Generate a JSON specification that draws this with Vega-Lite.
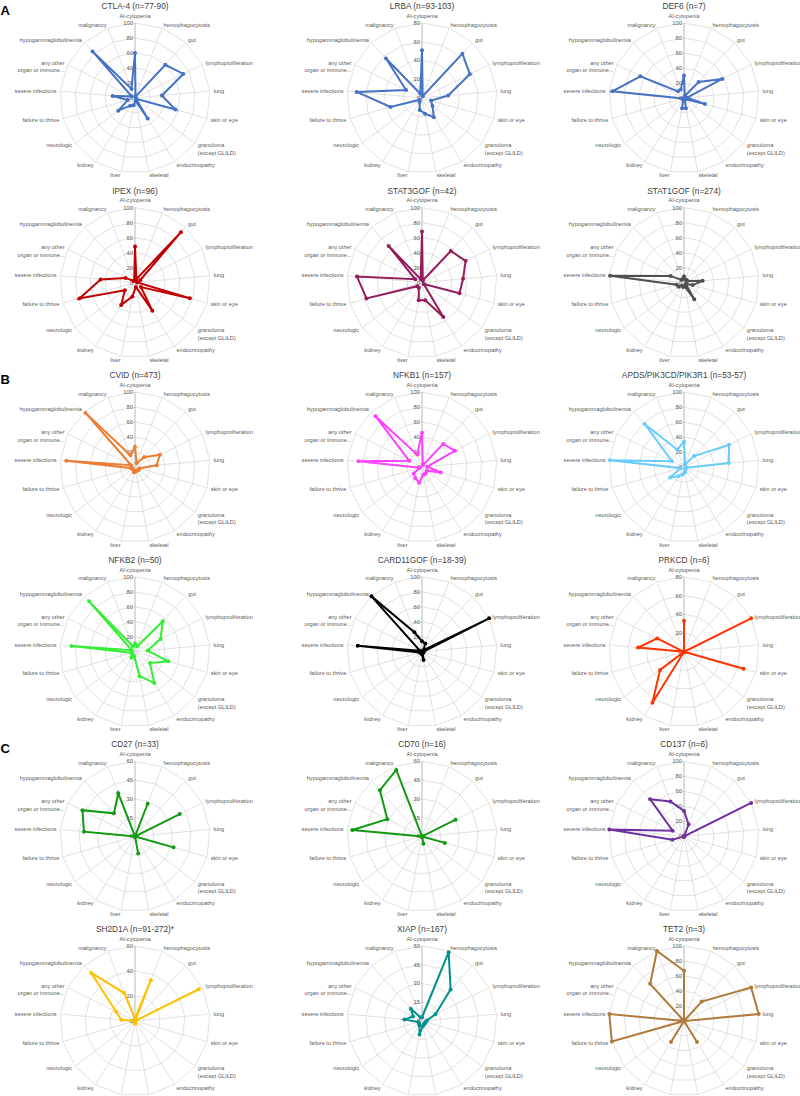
{
  "$schema": "https://vega.github.io/schema/vega-lite/v6.json",
  "padding": 0,
  "background": "white",
  "spacing": 0,
  "config": {"view": {"stroke": null}},
  "datasets": {
    "categories": [
      {"category": "AI-cytopenia", "label": "AI-cytopenia", "idx": 0},
      {"category": "hemophagocytosis", "label": "hemophagocytosis", "idx": 1},
      {"category": "gut", "label": "gut", "idx": 2},
      {"category": "lymphoproliferation", "label": "lymphoproliferation", "idx": 3},
      {"category": "lung", "label": "lung", "idx": 4},
      {"category": "skin or eye", "label": "skin or eye", "idx": 5},
      {"category": "granuloma (except GLILD)", "label": "granuloma\n(except GLILD)", "idx": 6},
      {"category": "endocrinopathy", "label": "endocrinopathy", "idx": 7},
      {"category": "skeletal", "label": "skeletal", "idx": 8},
      {"category": "liver", "label": "liver", "idx": 9},
      {"category": "kidney", "label": "kidney", "idx": 10},
      {"category": "neurologic", "label": "neurologic", "idx": 11},
      {"category": "failure to thrive", "label": "failure to thrive", "idx": 12},
      {"category": "severe infections", "label": "severe infections", "idx": 13},
      {"category": "any other organ or immune...", "label": "any other\norgan or immune...", "idx": 14},
      {"category": "hypogammaglobulinemia", "label": "hypogammaglobulinemia", "idx": 15},
      {"category": "malignancy", "label": "malignancy", "idx": 16}
    ],
    "panels": [
      {"panel": "CTLA-4", "title": "CTLA-4 (n=77-90)", "section": "A", "max": 100, "ticks": [0, 20, 40, 60, 80, 100]},
      {"panel": "LRBA", "title": "LRBA (n=93-103)", "section": "A", "max": 80, "ticks": [0, 20, 40, 60, 80]},
      {"panel": "DEF6", "title": "DEF6 (n=7)", "section": "A", "max": 100, "ticks": [0, 20, 40, 60, 80, 100]},
      {"panel": "IPEX", "title": "IPEX (n=96)", "section": "A", "max": 100, "ticks": [0, 20, 40, 60, 80, 100]},
      {"panel": "STAT3GOF", "title": "STAT3GOF (n=42)", "section": "A", "max": 100, "ticks": [0, 20, 40, 60, 80, 100]},
      {"panel": "STAT1GOF", "title": "STAT1GOF (n=274)", "section": "A", "max": 100, "ticks": [0, 20, 40, 60, 80, 100]},
      {"panel": "CVID", "title": "CVID (n=473)", "section": "B", "max": 100, "ticks": [0, 20, 40, 60, 80, 100]},
      {"panel": "NFKB1", "title": "NFKB1 (n=157)", "section": "B", "max": 100, "ticks": [0, 20, 40, 60, 80, 100]},
      {"panel": "APDS", "title": "APDS/PIK3CD/PIK3R1 (n=53-57)", "section": "B", "max": 100, "ticks": [0, 20, 40, 60, 80, 100]},
      {"panel": "NFKB2", "title": "NFKB2 (n=50)", "section": "B", "max": 100, "ticks": [0, 20, 40, 60, 80, 100]},
      {"panel": "CARD11GOF", "title": "CARD11GOF (n=18-39)", "section": "B", "max": 100, "ticks": [0, 20, 40, 60, 80, 100]},
      {"panel": "PRKCD", "title": "PRKCD (n=6)", "section": "B", "max": 80, "ticks": [0, 20, 40, 60, 80]},
      {"panel": "CD27", "title": "CD27 (n=33)", "section": "C", "max": 60, "ticks": [0, 15, 30, 45, 60]},
      {"panel": "CD70", "title": "CD70 (n=16)", "section": "C", "max": 60, "ticks": [0, 15, 30, 45, 60]},
      {"panel": "CD137", "title": "CD137 (n=6)", "section": "C", "max": 100, "ticks": [0, 20, 40, 60, 80, 100]},
      {"panel": "SH2D1A", "title": "SH2D1A (n=91-272)*", "section": "C", "max": 60, "ticks": [0, 20, 40, 60]},
      {"panel": "XIAP", "title": "XIAP (n=167)", "section": "C", "max": 60, "ticks": [0, 15, 30, 45, 60]},
      {"panel": "TET2", "title": "TET2 (n=3)", "section": "C", "max": 100, "ticks": [0, 20, 40, 60, 80, 100]}
    ],
    "values": [
      {"panel": "CTLA-4", "category": "AI-cytopenia", "value": 60},
      {"panel": "CTLA-4", "category": "hemophagocytosis", "value": 2},
      {"panel": "CTLA-4", "category": "gut", "value": 60},
      {"panel": "CTLA-4", "category": "lymphoproliferation", "value": 72},
      {"panel": "CTLA-4", "category": "lung", "value": 36},
      {"panel": "CTLA-4", "category": "skin or eye", "value": 56},
      {"panel": "CTLA-4", "category": "granuloma (except GLILD)", "value": 2},
      {"panel": "CTLA-4", "category": "endocrinopathy", "value": 32},
      {"panel": "CTLA-4", "category": "skeletal", "value": 4},
      {"panel": "CTLA-4", "category": "liver", "value": 10},
      {"panel": "CTLA-4", "category": "kidney", "value": 12},
      {"panel": "CTLA-4", "category": "neurologic", "value": 28},
      {"panel": "CTLA-4", "category": "failure to thrive", "value": 10},
      {"panel": "CTLA-4", "category": "severe infections", "value": 30},
      {"panel": "CTLA-4", "category": "any other organ or immune...", "value": 5},
      {"panel": "CTLA-4", "category": "hypogammaglobulinemia", "value": 84},
      {"panel": "CTLA-4", "category": "malignancy", "value": 13},

      {"panel": "LRBA", "category": "AI-cytopenia", "value": 51},
      {"panel": "LRBA", "category": "hemophagocytosis", "value": 2},
      {"panel": "LRBA", "category": "gut", "value": 64},
      {"panel": "LRBA", "category": "lymphoproliferation", "value": 57},
      {"panel": "LRBA", "category": "lung", "value": 28},
      {"panel": "LRBA", "category": "skin or eye", "value": 10},
      {"panel": "LRBA", "category": "granuloma (except GLILD)", "value": 14},
      {"panel": "LRBA", "category": "endocrinopathy", "value": 24},
      {"panel": "LRBA", "category": "skeletal", "value": 17},
      {"panel": "LRBA", "category": "liver", "value": 13},
      {"panel": "LRBA", "category": "kidney", "value": 5},
      {"panel": "LRBA", "category": "neurologic", "value": 3},
      {"panel": "LRBA", "category": "failure to thrive", "value": 35},
      {"panel": "LRBA", "category": "severe infections", "value": 70},
      {"panel": "LRBA", "category": "any other organ or immune...", "value": 19},
      {"panel": "LRBA", "category": "hypogammaglobulinemia", "value": 57},
      {"panel": "LRBA", "category": "malignancy", "value": 5},

      {"panel": "DEF6", "category": "AI-cytopenia", "value": 30},
      {"panel": "DEF6", "category": "hemophagocytosis", "value": 3},
      {"panel": "DEF6", "category": "gut", "value": 29},
      {"panel": "DEF6", "category": "lymphoproliferation", "value": 57},
      {"panel": "DEF6", "category": "lung", "value": 4},
      {"panel": "DEF6", "category": "skin or eye", "value": 29},
      {"panel": "DEF6", "category": "granuloma (except GLILD)", "value": 3},
      {"panel": "DEF6", "category": "endocrinopathy", "value": 2},
      {"panel": "DEF6", "category": "skeletal", "value": 14},
      {"panel": "DEF6", "category": "liver", "value": 14},
      {"panel": "DEF6", "category": "kidney", "value": 2},
      {"panel": "DEF6", "category": "neurologic", "value": 2},
      {"panel": "DEF6", "category": "failure to thrive", "value": 2},
      {"panel": "DEF6", "category": "severe infections", "value": 96},
      {"panel": "DEF6", "category": "any other organ or immune...", "value": 65},
      {"panel": "DEF6", "category": "hypogammaglobulinemia", "value": 12},
      {"panel": "DEF6", "category": "malignancy", "value": 12},

      {"panel": "IPEX", "category": "AI-cytopenia", "value": 48},
      {"panel": "IPEX", "category": "hemophagocytosis", "value": 5},
      {"panel": "IPEX", "category": "gut", "value": 91},
      {"panel": "IPEX", "category": "lymphoproliferation", "value": 8},
      {"panel": "IPEX", "category": "lung", "value": 3},
      {"panel": "IPEX", "category": "skin or eye", "value": 76},
      {"panel": "IPEX", "category": "granuloma (except GLILD)", "value": 10},
      {"panel": "IPEX", "category": "endocrinopathy", "value": 44},
      {"panel": "IPEX", "category": "skeletal", "value": 6},
      {"panel": "IPEX", "category": "liver", "value": 19},
      {"panel": "IPEX", "category": "kidney", "value": 35},
      {"panel": "IPEX", "category": "neurologic", "value": 17},
      {"panel": "IPEX", "category": "failure to thrive", "value": 77},
      {"panel": "IPEX", "category": "severe infections", "value": 46},
      {"panel": "IPEX", "category": "any other organ or immune...", "value": 14},
      {"panel": "IPEX", "category": "hypogammaglobulinemia", "value": 3},
      {"panel": "IPEX", "category": "malignancy", "value": 3},

      {"panel": "STAT3GOF", "category": "AI-cytopenia", "value": 68},
      {"panel": "STAT3GOF", "category": "hemophagocytosis", "value": 3},
      {"panel": "STAT3GOF", "category": "gut", "value": 57},
      {"panel": "STAT3GOF", "category": "lymphoproliferation", "value": 65},
      {"panel": "STAT3GOF", "category": "lung", "value": 55},
      {"panel": "STAT3GOF", "category": "skin or eye", "value": 52},
      {"panel": "STAT3GOF", "category": "granuloma (except GLILD)", "value": 3},
      {"panel": "STAT3GOF", "category": "endocrinopathy", "value": 54},
      {"panel": "STAT3GOF", "category": "skeletal", "value": 24},
      {"panel": "STAT3GOF", "category": "liver", "value": 24},
      {"panel": "STAT3GOF", "category": "kidney", "value": 8},
      {"panel": "STAT3GOF", "category": "neurologic", "value": 8},
      {"panel": "STAT3GOF", "category": "failure to thrive", "value": 77},
      {"panel": "STAT3GOF", "category": "severe infections", "value": 87},
      {"panel": "STAT3GOF", "category": "any other organ or immune...", "value": 10},
      {"panel": "STAT3GOF", "category": "hypogammaglobulinemia", "value": 66},
      {"panel": "STAT3GOF", "category": "malignancy", "value": 5},

      {"panel": "STAT1GOF", "category": "AI-cytopenia", "value": 8},
      {"panel": "STAT1GOF", "category": "hemophagocytosis", "value": 4},
      {"panel": "STAT1GOF", "category": "gut", "value": 5},
      {"panel": "STAT1GOF", "category": "lymphoproliferation", "value": 5},
      {"panel": "STAT1GOF", "category": "lung", "value": 25},
      {"panel": "STAT1GOF", "category": "skin or eye", "value": 12},
      {"panel": "STAT1GOF", "category": "granuloma (except GLILD)", "value": 3},
      {"panel": "STAT1GOF", "category": "endocrinopathy", "value": 26},
      {"panel": "STAT1GOF", "category": "skeletal", "value": 5},
      {"panel": "STAT1GOF", "category": "liver", "value": 6},
      {"panel": "STAT1GOF", "category": "kidney", "value": 5},
      {"panel": "STAT1GOF", "category": "neurologic", "value": 9},
      {"panel": "STAT1GOF", "category": "failure to thrive", "value": 10},
      {"panel": "STAT1GOF", "category": "severe infections", "value": 99},
      {"panel": "STAT1GOF", "category": "any other organ or immune...", "value": 20},
      {"panel": "STAT1GOF", "category": "hypogammaglobulinemia", "value": 5},
      {"panel": "STAT1GOF", "category": "malignancy", "value": 5},

      {"panel": "CVID", "category": "AI-cytopenia", "value": 27},
      {"panel": "CVID", "category": "hemophagocytosis", "value": 6},
      {"panel": "CVID", "category": "gut", "value": 18},
      {"panel": "CVID", "category": "lymphoproliferation", "value": 37},
      {"panel": "CVID", "category": "lung", "value": 29},
      {"panel": "CVID", "category": "skin or eye", "value": 6},
      {"panel": "CVID", "category": "granuloma (except GLILD)", "value": 6},
      {"panel": "CVID", "category": "endocrinopathy", "value": 5},
      {"panel": "CVID", "category": "skeletal", "value": 6},
      {"panel": "CVID", "category": "liver", "value": 7},
      {"panel": "CVID", "category": "kidney", "value": 4},
      {"panel": "CVID", "category": "neurologic", "value": 4},
      {"panel": "CVID", "category": "failure to thrive", "value": 5},
      {"panel": "CVID", "category": "severe infections", "value": 92},
      {"panel": "CVID", "category": "any other organ or immune...", "value": 6},
      {"panel": "CVID", "category": "hypogammaglobulinemia", "value": 98},
      {"panel": "CVID", "category": "malignancy", "value": 17},

      {"panel": "NFKB1", "category": "AI-cytopenia", "value": 46},
      {"panel": "NFKB1", "category": "hemophagocytosis", "value": 3},
      {"panel": "NFKB1", "category": "gut", "value": 42},
      {"panel": "NFKB1", "category": "lymphoproliferation", "value": 49},
      {"panel": "NFKB1", "category": "lung", "value": 7},
      {"panel": "NFKB1", "category": "skin or eye", "value": 26},
      {"panel": "NFKB1", "category": "granuloma (except GLILD)", "value": 8},
      {"panel": "NFKB1", "category": "endocrinopathy", "value": 10},
      {"panel": "NFKB1", "category": "skeletal", "value": 10},
      {"panel": "NFKB1", "category": "liver", "value": 21},
      {"panel": "NFKB1", "category": "kidney", "value": 17},
      {"panel": "NFKB1", "category": "neurologic", "value": 14},
      {"panel": "NFKB1", "category": "failure to thrive", "value": 3},
      {"panel": "NFKB1", "category": "severe infections", "value": 85},
      {"panel": "NFKB1", "category": "any other organ or immune...", "value": 19},
      {"panel": "NFKB1", "category": "hypogammaglobulinemia", "value": 92},
      {"panel": "NFKB1", "category": "malignancy", "value": 18},

      {"panel": "APDS", "category": "AI-cytopenia", "value": 34},
      {"panel": "APDS", "category": "hemophagocytosis", "value": 4},
      {"panel": "APDS", "category": "gut", "value": 20},
      {"panel": "APDS", "category": "lymphoproliferation", "value": 67},
      {"panel": "APDS", "category": "lung", "value": 60},
      {"panel": "APDS", "category": "skin or eye", "value": 3},
      {"panel": "APDS", "category": "granuloma (except GLILD)", "value": 3},
      {"panel": "APDS", "category": "endocrinopathy", "value": 3},
      {"panel": "APDS", "category": "skeletal", "value": 7},
      {"panel": "APDS", "category": "liver", "value": 10},
      {"panel": "APDS", "category": "kidney", "value": 14},
      {"panel": "APDS", "category": "neurologic", "value": 23},
      {"panel": "APDS", "category": "failure to thrive", "value": 5},
      {"panel": "APDS", "category": "severe infections", "value": 99},
      {"panel": "APDS", "category": "any other organ or immune...", "value": 18},
      {"panel": "APDS", "category": "hypogammaglobulinemia", "value": 78},
      {"panel": "APDS", "category": "malignancy", "value": 25},

      {"panel": "NFKB2", "category": "AI-cytopenia", "value": 11},
      {"panel": "NFKB2", "category": "hemophagocytosis", "value": 8},
      {"panel": "NFKB2", "category": "gut", "value": 55},
      {"panel": "NFKB2", "category": "lymphoproliferation", "value": 38},
      {"panel": "NFKB2", "category": "lung", "value": 17},
      {"panel": "NFKB2", "category": "skin or eye", "value": 46},
      {"panel": "NFKB2", "category": "granuloma (except GLILD)", "value": 25},
      {"panel": "NFKB2", "category": "endocrinopathy", "value": 49},
      {"panel": "NFKB2", "category": "skeletal", "value": 33},
      {"panel": "NFKB2", "category": "liver", "value": 6},
      {"panel": "NFKB2", "category": "kidney", "value": 9},
      {"panel": "NFKB2", "category": "neurologic", "value": 5},
      {"panel": "NFKB2", "category": "failure to thrive", "value": 5},
      {"panel": "NFKB2", "category": "severe infections", "value": 85},
      {"panel": "NFKB2", "category": "any other organ or immune...", "value": 5},
      {"panel": "NFKB2", "category": "hypogammaglobulinemia", "value": 91},
      {"panel": "NFKB2", "category": "malignancy", "value": 8},

      {"panel": "CARD11GOF", "category": "AI-cytopenia", "value": 14},
      {"panel": "CARD11GOF", "category": "hemophagocytosis", "value": 12},
      {"panel": "CARD11GOF", "category": "gut", "value": 3},
      {"panel": "CARD11GOF", "category": "lymphoproliferation", "value": 100},
      {"panel": "CARD11GOF", "category": "lung", "value": 2},
      {"panel": "CARD11GOF", "category": "skin or eye", "value": 2},
      {"panel": "CARD11GOF", "category": "granuloma (except GLILD)", "value": 2},
      {"panel": "CARD11GOF", "category": "endocrinopathy", "value": 2},
      {"panel": "CARD11GOF", "category": "skeletal", "value": 11},
      {"panel": "CARD11GOF", "category": "liver", "value": 3},
      {"panel": "CARD11GOF", "category": "kidney", "value": 2},
      {"panel": "CARD11GOF", "category": "neurologic", "value": 2},
      {"panel": "CARD11GOF", "category": "failure to thrive", "value": 3},
      {"panel": "CARD11GOF", "category": "severe infections", "value": 86},
      {"panel": "CARD11GOF", "category": "any other organ or immune...", "value": 3},
      {"panel": "CARD11GOF", "category": "hypogammaglobulinemia", "value": 100},
      {"panel": "CARD11GOF", "category": "malignancy", "value": 28},

      {"panel": "PRKCD", "category": "AI-cytopenia", "value": 33},
      {"panel": "PRKCD", "category": "hemophagocytosis", "value": 0},
      {"panel": "PRKCD", "category": "gut", "value": 0},
      {"panel": "PRKCD", "category": "lymphoproliferation", "value": 80},
      {"panel": "PRKCD", "category": "lung", "value": 0},
      {"panel": "PRKCD", "category": "skin or eye", "value": 66},
      {"panel": "PRKCD", "category": "granuloma (except GLILD)", "value": 0},
      {"panel": "PRKCD", "category": "endocrinopathy", "value": 0},
      {"panel": "PRKCD", "category": "skeletal", "value": 0},
      {"panel": "PRKCD", "category": "liver", "value": 0},
      {"panel": "PRKCD", "category": "kidney", "value": 64},
      {"panel": "PRKCD", "category": "neurologic", "value": 32},
      {"panel": "PRKCD", "category": "failure to thrive", "value": 0},
      {"panel": "PRKCD", "category": "severe infections", "value": 49},
      {"panel": "PRKCD", "category": "any other organ or immune...", "value": 32},
      {"panel": "PRKCD", "category": "hypogammaglobulinemia", "value": 0},
      {"panel": "PRKCD", "category": "malignancy", "value": 0},

      {"panel": "CD27", "category": "AI-cytopenia", "value": 0},
      {"panel": "CD27", "category": "hemophagocytosis", "value": 28},
      {"panel": "CD27", "category": "gut", "value": 0},
      {"panel": "CD27", "category": "lymphoproliferation", "value": 40},
      {"panel": "CD27", "category": "lung", "value": 0},
      {"panel": "CD27", "category": "skin or eye", "value": 32},
      {"panel": "CD27", "category": "granuloma (except GLILD)", "value": 0},
      {"panel": "CD27", "category": "endocrinopathy", "value": 0},
      {"panel": "CD27", "category": "skeletal", "value": 14},
      {"panel": "CD27", "category": "liver", "value": 0},
      {"panel": "CD27", "category": "kidney", "value": 0},
      {"panel": "CD27", "category": "neurologic", "value": 0},
      {"panel": "CD27", "category": "failure to thrive", "value": 0},
      {"panel": "CD27", "category": "severe infections", "value": 41},
      {"panel": "CD27", "category": "any other organ or immune...", "value": 47},
      {"panel": "CD27", "category": "hypogammaglobulinemia", "value": 25},
      {"panel": "CD27", "category": "malignancy", "value": 37},

      {"panel": "CD70", "category": "AI-cytopenia", "value": 0},
      {"panel": "CD70", "category": "hemophagocytosis", "value": 0},
      {"panel": "CD70", "category": "gut", "value": 0},
      {"panel": "CD70", "category": "lymphoproliferation", "value": 30},
      {"panel": "CD70", "category": "lung", "value": 0},
      {"panel": "CD70", "category": "skin or eye", "value": 19},
      {"panel": "CD70", "category": "granuloma (except GLILD)", "value": 0},
      {"panel": "CD70", "category": "endocrinopathy", "value": 0},
      {"panel": "CD70", "category": "skeletal", "value": 6},
      {"panel": "CD70", "category": "liver", "value": 0},
      {"panel": "CD70", "category": "kidney", "value": 0},
      {"panel": "CD70", "category": "neurologic", "value": 0},
      {"panel": "CD70", "category": "failure to thrive", "value": 0},
      {"panel": "CD70", "category": "severe infections", "value": 56},
      {"panel": "CD70", "category": "any other organ or immune...", "value": 31},
      {"panel": "CD70", "category": "hypogammaglobulinemia", "value": 50},
      {"panel": "CD70", "category": "malignancy", "value": 57},

      {"panel": "CD137", "category": "AI-cytopenia", "value": 34},
      {"panel": "CD137", "category": "hemophagocytosis", "value": 17},
      {"panel": "CD137", "category": "gut", "value": 0},
      {"panel": "CD137", "category": "lymphoproliferation", "value": 100},
      {"panel": "CD137", "category": "lung", "value": 0},
      {"panel": "CD137", "category": "skin or eye", "value": 0},
      {"panel": "CD137", "category": "granuloma (except GLILD)", "value": 0},
      {"panel": "CD137", "category": "endocrinopathy", "value": 0},
      {"panel": "CD137", "category": "skeletal", "value": 0},
      {"panel": "CD137", "category": "liver", "value": 0},
      {"panel": "CD137", "category": "kidney", "value": 0},
      {"panel": "CD137", "category": "neurologic", "value": 0},
      {"panel": "CD137", "category": "failure to thrive", "value": 16},
      {"panel": "CD137", "category": "severe infections", "value": 100},
      {"panel": "CD137", "category": "any other organ or immune...", "value": 17},
      {"panel": "CD137", "category": "hypogammaglobulinemia", "value": 67},
      {"panel": "CD137", "category": "malignancy", "value": 50},

      {"panel": "SH2D1A", "category": "AI-cytopenia", "value": 2},
      {"panel": "SH2D1A", "category": "hemophagocytosis", "value": 35},
      {"panel": "SH2D1A", "category": "gut", "value": 0},
      {"panel": "SH2D1A", "category": "lymphoproliferation", "value": 57},
      {"panel": "SH2D1A", "category": "lung", "value": 0},
      {"panel": "SH2D1A", "category": "skin or eye", "value": 0},
      {"panel": "SH2D1A", "category": "granuloma (except GLILD)", "value": 0},
      {"panel": "SH2D1A", "category": "endocrinopathy", "value": 0},
      {"panel": "SH2D1A", "category": "skeletal", "value": 2},
      {"panel": "SH2D1A", "category": "liver", "value": 2},
      {"panel": "SH2D1A", "category": "kidney", "value": 0},
      {"panel": "SH2D1A", "category": "neurologic", "value": 0},
      {"panel": "SH2D1A", "category": "failure to thrive", "value": 0},
      {"panel": "SH2D1A", "category": "severe infections", "value": 11},
      {"panel": "SH2D1A", "category": "any other organ or immune...", "value": 17},
      {"panel": "SH2D1A", "category": "hypogammaglobulinemia", "value": 52},
      {"panel": "SH2D1A", "category": "malignancy", "value": 24},

      {"panel": "XIAP", "category": "AI-cytopenia", "value": 3},
      {"panel": "XIAP", "category": "hemophagocytosis", "value": 59},
      {"panel": "XIAP", "category": "gut", "value": 34},
      {"panel": "XIAP", "category": "lymphoproliferation", "value": 12},
      {"panel": "XIAP", "category": "lung", "value": 4},
      {"panel": "XIAP", "category": "skin or eye", "value": 3},
      {"panel": "XIAP", "category": "granuloma (except GLILD)", "value": 3},
      {"panel": "XIAP", "category": "endocrinopathy", "value": 3},
      {"panel": "XIAP", "category": "skeletal", "value": 4},
      {"panel": "XIAP", "category": "liver", "value": 11},
      {"panel": "XIAP", "category": "kidney", "value": 4},
      {"panel": "XIAP", "category": "neurologic", "value": 3},
      {"panel": "XIAP", "category": "failure to thrive", "value": 3},
      {"panel": "XIAP", "category": "severe infections", "value": 14},
      {"panel": "XIAP", "category": "any other organ or immune...", "value": 8},
      {"panel": "XIAP", "category": "hypogammaglobulinemia", "value": 13},
      {"panel": "XIAP", "category": "malignancy", "value": 3},

      {"panel": "TET2", "category": "AI-cytopenia", "value": 67},
      {"panel": "TET2", "category": "hemophagocytosis", "value": 0},
      {"panel": "TET2", "category": "gut", "value": 35},
      {"panel": "TET2", "category": "lymphoproliferation", "value": 100},
      {"panel": "TET2", "category": "lung", "value": 100},
      {"panel": "TET2", "category": "skin or eye", "value": 0},
      {"panel": "TET2", "category": "granuloma (except GLILD)", "value": 0},
      {"panel": "TET2", "category": "endocrinopathy", "value": 33},
      {"panel": "TET2", "category": "skeletal", "value": 0},
      {"panel": "TET2", "category": "liver", "value": 0},
      {"panel": "TET2", "category": "kidney", "value": 33},
      {"panel": "TET2", "category": "neurologic", "value": 0},
      {"panel": "TET2", "category": "failure to thrive", "value": 100},
      {"panel": "TET2", "category": "severe infections", "value": 100},
      {"panel": "TET2", "category": "any other organ or immune...", "value": 0},
      {"panel": "TET2", "category": "hypogammaglobulinemia", "value": 67},
      {"panel": "TET2", "category": "malignancy", "value": 100}
    ]
  },
  "hconcat": [
    {
      "data": {"name": "values"},
      "transform": [
        {"filter": {"field": "panel", "oneOf": ["CTLA-4", "IPEX", "CVID", "NFKB2", "CD27", "SH2D1A"]}},
        {"lookup": "category", "from": {"data": {"name": "categories"}, "key": "category", "fields": ["idx", "label"]}},
        {"lookup": "panel", "from": {"data": {"name": "panels"}, "key": "panel", "fields": ["title", "max", "ticks", "section"]}},
        {"calculate": "sin(2 * PI * datum.idx / 17)", "as": "ux"},
        {"calculate": "cos(2 * PI * datum.idx / 17)", "as": "uy"}
      ],
      "facet": {"field": "title", "type": "nominal", "title": null,
        "sort": ["CTLA-4 (n=77-90)", "IPEX (n=96)", "CVID (n=473)", "NFKB2 (n=50)", "CD27 (n=33)", "SH2D1A (n=91-272)*"],
        "header": {"labelExpr": "''", "labelFontSize": 1, "labelPadding": 0}},
      "columns": 1,
      "spacing": 5.6,
      "bounds": "flush",
      "spec": {
        "width": 272,
        "height": 179,
        "encoding": {
          "x": {"field": "px", "type": "quantitative", "scale": {"domain": [-1.7867, 1.84], "nice": false, "zero": false}, "axis": null},
          "y": {"field": "py", "type": "quantitative", "scale": {"domain": [-1.0933, 1.2933], "nice": false, "zero": false}, "axis": null}
        },
        "layer": [
          {"transform": [{"flatten": ["ticks"]}, {"calculate": "datum.ticks / datum.max * datum.ux", "as": "px"}, {"calculate": "datum.ticks / datum.max * datum.uy", "as": "py"}],
           "mark": {"type": "line", "interpolate": "linear-closed", "stroke": "#d9d9d9", "strokeWidth": 0.8},
           "encoding": {"detail": {"field": "ticks", "type": "nominal"}, "order": {"field": "idx", "type": "quantitative"}}},
          {"transform": [{"calculate": "datum.ux", "as": "px"}, {"calculate": "datum.uy", "as": "py"}],
           "mark": {"type": "rule", "strokeWidth": 0.8},
           "encoding": {"x2": {"datum": 0}, "y2": {"datum": 0}, "color": {"condition": {"test": "datum.idx == 0", "value": "#a6a6a6"}, "value": "#d9d9d9"}}},
          {"transform": [{"filter": "datum.idx == 0"}, {"flatten": ["ticks"]}, {"calculate": "0", "as": "px"}, {"calculate": "datum.ticks / datum.max", "as": "py"}],
           "mark": {"type": "text", "align": "right", "baseline": "middle", "dx": -2, "fontSize": 5.8, "color": "#595959", "font": "Liberation Sans, sans-serif"},
           "encoding": {"text": {"field": "ticks", "type": "quantitative"}}},
          {"transform": [{"filter": "datum.ux > 0.05"}, {"calculate": "1.05 * datum.ux", "as": "px"}, {"calculate": "1.05 * datum.uy", "as": "py"}],
           "mark": {"type": "text", "align": "left", "baseline": "middle", "fontSize": 5.6, "color": "#595959", "font": "Liberation Sans, sans-serif", "lineBreak": "\n", "lineHeight": 7.5},
           "encoding": {"text": {"field": "label", "type": "nominal"}}},
          {"transform": [{"filter": "datum.ux < -0.05"}, {"calculate": "1.05 * datum.ux", "as": "px"}, {"calculate": "1.05 * datum.uy", "as": "py"}],
           "mark": {"type": "text", "align": "right", "baseline": "middle", "fontSize": 5.6, "color": "#595959", "font": "Liberation Sans, sans-serif", "lineBreak": "\n", "lineHeight": 7.5},
           "encoding": {"text": {"field": "label", "type": "nominal"}}},
          {"transform": [{"filter": "datum.idx == 0"}, {"calculate": "0", "as": "px"}, {"calculate": "1.095", "as": "py"}],
           "mark": {"type": "text", "align": "center", "baseline": "middle", "fontSize": 5.6, "color": "#595959", "font": "Liberation Sans, sans-serif"},
           "encoding": {"text": {"field": "label", "type": "nominal"}}},
          {"transform": [{"filter": "datum.idx == 0"}, {"calculate": "0", "as": "px"}, {"calculate": "1.2133", "as": "py"}],
           "mark": {"type": "text", "align": "center", "baseline": "middle", "fontSize": 8.3, "color": "#404040", "font": "Liberation Sans, sans-serif"},
           "encoding": {"text": {"field": "title", "type": "nominal"}}},
          {"transform": [{"calculate": "datum.value / datum.max * datum.ux", "as": "px"}, {"calculate": "datum.value / datum.max * datum.uy", "as": "py"}],
           "mark": {"type": "line", "interpolate": "linear-closed", "strokeWidth": 2},
           "encoding": {"order": {"field": "idx", "type": "quantitative"},
             "color": {"field": "panel", "type": "nominal", "legend": null, "scale": {
               "domain": ["CTLA-4", "LRBA", "DEF6", "IPEX", "STAT3GOF", "STAT1GOF", "CVID", "NFKB1", "APDS", "NFKB2", "CARD11GOF", "PRKCD", "CD27", "CD70", "CD137", "SH2D1A", "XIAP", "TET2"],
               "range": ["#4472c4", "#4472c4", "#4472c4", "#c00000", "#941c5c", "#505050", "#ed7d31", "#ff40ff", "#66ccff", "#33ee33", "#000000", "#ff3300", "#139a13", "#139a13", "#7030a0", "#ffc000", "#00918e", "#b07a3a"]}}}},
          {"transform": [{"calculate": "datum.value / datum.max * datum.ux", "as": "px"}, {"calculate": "datum.value / datum.max * datum.uy", "as": "py"}],
           "mark": {"type": "circle", "size": 16, "opacity": 1},
           "encoding": {
             "color": {"field": "panel", "type": "nominal", "legend": null, "scale": {
               "domain": ["CTLA-4", "LRBA", "DEF6", "IPEX", "STAT3GOF", "STAT1GOF", "CVID", "NFKB1", "APDS", "NFKB2", "CARD11GOF", "PRKCD", "CD27", "CD70", "CD137", "SH2D1A", "XIAP", "TET2"],
               "range": ["#4472c4", "#4472c4", "#4472c4", "#c00000", "#941c5c", "#505050", "#ed7d31", "#ff40ff", "#66ccff", "#33ee33", "#000000", "#ff3300", "#139a13", "#139a13", "#7030a0", "#ffc000", "#00918e", "#b07a3a"]}}}},
          {"transform": [{"filter": {"field": "panel", "oneOf": ["CTLA-4", "CVID", "CD27"]}}, {"filter": "datum.idx == 0"}, {"calculate": "-1.73", "as": "px"}, {"calculate": "1.16", "as": "py"}],
           "mark": {"type": "text", "align": "center", "baseline": "middle", "fontSize": 13, "fontWeight": "bold", "color": "#000000", "font": "Liberation Sans, sans-serif"},
           "encoding": {"text": {"field": "section", "type": "nominal"}}}
        ]
      }
    },
    {
      "data": {"name": "values"},
      "transform": [
        {"filter": {"field": "panel", "oneOf": ["LRBA", "STAT3GOF", "NFKB1", "CARD11GOF", "CD70", "XIAP"]}},
        {"lookup": "category", "from": {"data": {"name": "categories"}, "key": "category", "fields": ["idx", "label"]}},
        {"lookup": "panel", "from": {"data": {"name": "panels"}, "key": "panel", "fields": ["title", "max", "ticks", "section"]}},
        {"calculate": "sin(2 * PI * datum.idx / 17)", "as": "ux"},
        {"calculate": "cos(2 * PI * datum.idx / 17)", "as": "uy"}
      ],
      "facet": {"field": "title", "type": "nominal", "title": null,
        "sort": ["LRBA (n=93-103)", "STAT3GOF (n=42)", "NFKB1 (n=157)", "CARD11GOF (n=18-39)", "CD70 (n=16)", "XIAP (n=167)"],
        "header": {"labelExpr": "''", "labelFontSize": 1, "labelPadding": 0}},
      "columns": 1,
      "spacing": 5.6,
      "bounds": "flush",
      "spec": {
        "width": 268,
        "height": 179,
        "encoding": {
          "x": {"field": "px", "type": "quantitative", "scale": {"domain": [-1.9867, 1.5867], "nice": false, "zero": false}, "axis": null},
          "y": {"field": "py", "type": "quantitative", "scale": {"domain": [-1.0933, 1.2933], "nice": false, "zero": false}, "axis": null}
        },
        "layer": [
          {"transform": [{"flatten": ["ticks"]}, {"calculate": "datum.ticks / datum.max * datum.ux", "as": "px"}, {"calculate": "datum.ticks / datum.max * datum.uy", "as": "py"}],
           "mark": {"type": "line", "interpolate": "linear-closed", "stroke": "#d9d9d9", "strokeWidth": 0.8},
           "encoding": {"detail": {"field": "ticks", "type": "nominal"}, "order": {"field": "idx", "type": "quantitative"}}},
          {"transform": [{"calculate": "datum.ux", "as": "px"}, {"calculate": "datum.uy", "as": "py"}],
           "mark": {"type": "rule", "strokeWidth": 0.8},
           "encoding": {"x2": {"datum": 0}, "y2": {"datum": 0}, "color": {"condition": {"test": "datum.idx == 0", "value": "#a6a6a6"}, "value": "#d9d9d9"}}},
          {"transform": [{"filter": "datum.idx == 0"}, {"flatten": ["ticks"]}, {"calculate": "0", "as": "px"}, {"calculate": "datum.ticks / datum.max", "as": "py"}],
           "mark": {"type": "text", "align": "right", "baseline": "middle", "dx": -2, "fontSize": 5.8, "color": "#595959", "font": "Liberation Sans, sans-serif"},
           "encoding": {"text": {"field": "ticks", "type": "quantitative"}}},
          {"transform": [{"filter": "datum.ux > 0.05"}, {"calculate": "1.05 * datum.ux", "as": "px"}, {"calculate": "1.05 * datum.uy", "as": "py"}],
           "mark": {"type": "text", "align": "left", "baseline": "middle", "fontSize": 5.6, "color": "#595959", "font": "Liberation Sans, sans-serif", "lineBreak": "\n", "lineHeight": 7.5},
           "encoding": {"text": {"field": "label", "type": "nominal"}}},
          {"transform": [{"filter": "datum.ux < -0.05"}, {"calculate": "1.05 * datum.ux", "as": "px"}, {"calculate": "1.05 * datum.uy", "as": "py"}],
           "mark": {"type": "text", "align": "right", "baseline": "middle", "fontSize": 5.6, "color": "#595959", "font": "Liberation Sans, sans-serif", "lineBreak": "\n", "lineHeight": 7.5},
           "encoding": {"text": {"field": "label", "type": "nominal"}}},
          {"transform": [{"filter": "datum.idx == 0"}, {"calculate": "0", "as": "px"}, {"calculate": "1.095", "as": "py"}],
           "mark": {"type": "text", "align": "center", "baseline": "middle", "fontSize": 5.6, "color": "#595959", "font": "Liberation Sans, sans-serif"},
           "encoding": {"text": {"field": "label", "type": "nominal"}}},
          {"transform": [{"filter": "datum.idx == 0"}, {"calculate": "0", "as": "px"}, {"calculate": "1.2133", "as": "py"}],
           "mark": {"type": "text", "align": "center", "baseline": "middle", "fontSize": 8.3, "color": "#404040", "font": "Liberation Sans, sans-serif"},
           "encoding": {"text": {"field": "title", "type": "nominal"}}},
          {"transform": [{"calculate": "datum.value / datum.max * datum.ux", "as": "px"}, {"calculate": "datum.value / datum.max * datum.uy", "as": "py"}],
           "mark": {"type": "line", "interpolate": "linear-closed", "strokeWidth": 2},
           "encoding": {"order": {"field": "idx", "type": "quantitative"},
             "color": {"field": "panel", "type": "nominal", "legend": null, "scale": {
               "domain": ["CTLA-4", "LRBA", "DEF6", "IPEX", "STAT3GOF", "STAT1GOF", "CVID", "NFKB1", "APDS", "NFKB2", "CARD11GOF", "PRKCD", "CD27", "CD70", "CD137", "SH2D1A", "XIAP", "TET2"],
               "range": ["#4472c4", "#4472c4", "#4472c4", "#c00000", "#941c5c", "#505050", "#ed7d31", "#ff40ff", "#66ccff", "#33ee33", "#000000", "#ff3300", "#139a13", "#139a13", "#7030a0", "#ffc000", "#00918e", "#b07a3a"]}}}},
          {"transform": [{"calculate": "datum.value / datum.max * datum.ux", "as": "px"}, {"calculate": "datum.value / datum.max * datum.uy", "as": "py"}],
           "mark": {"type": "circle", "size": 16, "opacity": 1},
           "encoding": {
             "color": {"field": "panel", "type": "nominal", "legend": null, "scale": {
               "domain": ["CTLA-4", "LRBA", "DEF6", "IPEX", "STAT3GOF", "STAT1GOF", "CVID", "NFKB1", "APDS", "NFKB2", "CARD11GOF", "PRKCD", "CD27", "CD70", "CD137", "SH2D1A", "XIAP", "TET2"],
               "range": ["#4472c4", "#4472c4", "#4472c4", "#c00000", "#941c5c", "#505050", "#ed7d31", "#ff40ff", "#66ccff", "#33ee33", "#000000", "#ff3300", "#139a13", "#139a13", "#7030a0", "#ffc000", "#00918e", "#b07a3a"]}}}}
        ]
      }
    },
    {
      "data": {"name": "values"},
      "transform": [
        {"filter": {"field": "panel", "oneOf": ["DEF6", "STAT1GOF", "APDS", "PRKCD", "CD137", "TET2"]}},
        {"lookup": "category", "from": {"data": {"name": "categories"}, "key": "category", "fields": ["idx", "label"]}},
        {"lookup": "panel", "from": {"data": {"name": "panels"}, "key": "panel", "fields": ["title", "max", "ticks", "section"]}},
        {"calculate": "sin(2 * PI * datum.idx / 17)", "as": "ux"},
        {"calculate": "cos(2 * PI * datum.idx / 17)", "as": "uy"}
      ],
      "facet": {"field": "title", "type": "nominal", "title": null,
        "sort": ["DEF6 (n=7)", "STAT1GOF (n=274)", "APDS/PIK3CD/PIK3R1 (n=53-57)", "PRKCD (n=6)", "CD137 (n=6)", "TET2 (n=3)"],
        "header": {"labelExpr": "''", "labelFontSize": 1, "labelPadding": 0}},
      "columns": 1,
      "spacing": 5.6,
      "bounds": "flush",
      "spec": {
        "width": 260,
        "height": 179,
        "encoding": {
          "x": {"field": "px", "type": "quantitative", "scale": {"domain": [-1.9067, 1.56], "nice": false, "zero": false}, "axis": null},
          "y": {"field": "py", "type": "quantitative", "scale": {"domain": [-1.0933, 1.2933], "nice": false, "zero": false}, "axis": null}
        },
        "layer": [
          {"transform": [{"flatten": ["ticks"]}, {"calculate": "datum.ticks / datum.max * datum.ux", "as": "px"}, {"calculate": "datum.ticks / datum.max * datum.uy", "as": "py"}],
           "mark": {"type": "line", "interpolate": "linear-closed", "stroke": "#d9d9d9", "strokeWidth": 0.8},
           "encoding": {"detail": {"field": "ticks", "type": "nominal"}, "order": {"field": "idx", "type": "quantitative"}}},
          {"transform": [{"calculate": "datum.ux", "as": "px"}, {"calculate": "datum.uy", "as": "py"}],
           "mark": {"type": "rule", "strokeWidth": 0.8},
           "encoding": {"x2": {"datum": 0}, "y2": {"datum": 0}, "color": {"condition": {"test": "datum.idx == 0", "value": "#a6a6a6"}, "value": "#d9d9d9"}}},
          {"transform": [{"filter": "datum.idx == 0"}, {"flatten": ["ticks"]}, {"calculate": "0", "as": "px"}, {"calculate": "datum.ticks / datum.max", "as": "py"}],
           "mark": {"type": "text", "align": "right", "baseline": "middle", "dx": -2, "fontSize": 5.8, "color": "#595959", "font": "Liberation Sans, sans-serif"},
           "encoding": {"text": {"field": "ticks", "type": "quantitative"}}},
          {"transform": [{"filter": "datum.ux > 0.05"}, {"calculate": "1.05 * datum.ux", "as": "px"}, {"calculate": "1.05 * datum.uy", "as": "py"}],
           "mark": {"type": "text", "align": "left", "baseline": "middle", "fontSize": 5.6, "color": "#595959", "font": "Liberation Sans, sans-serif", "lineBreak": "\n", "lineHeight": 7.5},
           "encoding": {"text": {"field": "label", "type": "nominal"}}},
          {"transform": [{"filter": "datum.ux < -0.05"}, {"calculate": "1.05 * datum.ux", "as": "px"}, {"calculate": "1.05 * datum.uy", "as": "py"}],
           "mark": {"type": "text", "align": "right", "baseline": "middle", "fontSize": 5.6, "color": "#595959", "font": "Liberation Sans, sans-serif", "lineBreak": "\n", "lineHeight": 7.5},
           "encoding": {"text": {"field": "label", "type": "nominal"}}},
          {"transform": [{"filter": "datum.idx == 0"}, {"calculate": "0", "as": "px"}, {"calculate": "1.095", "as": "py"}],
           "mark": {"type": "text", "align": "center", "baseline": "middle", "fontSize": 5.6, "color": "#595959", "font": "Liberation Sans, sans-serif"},
           "encoding": {"text": {"field": "label", "type": "nominal"}}},
          {"transform": [{"filter": "datum.idx == 0"}, {"calculate": "0", "as": "px"}, {"calculate": "1.2133", "as": "py"}],
           "mark": {"type": "text", "align": "center", "baseline": "middle", "fontSize": 8.3, "color": "#404040", "font": "Liberation Sans, sans-serif"},
           "encoding": {"text": {"field": "title", "type": "nominal"}}},
          {"transform": [{"calculate": "datum.value / datum.max * datum.ux", "as": "px"}, {"calculate": "datum.value / datum.max * datum.uy", "as": "py"}],
           "mark": {"type": "line", "interpolate": "linear-closed", "strokeWidth": 2},
           "encoding": {"order": {"field": "idx", "type": "quantitative"},
             "color": {"field": "panel", "type": "nominal", "legend": null, "scale": {
               "domain": ["CTLA-4", "LRBA", "DEF6", "IPEX", "STAT3GOF", "STAT1GOF", "CVID", "NFKB1", "APDS", "NFKB2", "CARD11GOF", "PRKCD", "CD27", "CD70", "CD137", "SH2D1A", "XIAP", "TET2"],
               "range": ["#4472c4", "#4472c4", "#4472c4", "#c00000", "#941c5c", "#505050", "#ed7d31", "#ff40ff", "#66ccff", "#33ee33", "#000000", "#ff3300", "#139a13", "#139a13", "#7030a0", "#ffc000", "#00918e", "#b07a3a"]}}}},
          {"transform": [{"calculate": "datum.value / datum.max * datum.ux", "as": "px"}, {"calculate": "datum.value / datum.max * datum.uy", "as": "py"}],
           "mark": {"type": "circle", "size": 16, "opacity": 1},
           "encoding": {
             "color": {"field": "panel", "type": "nominal", "legend": null, "scale": {
               "domain": ["CTLA-4", "LRBA", "DEF6", "IPEX", "STAT3GOF", "STAT1GOF", "CVID", "NFKB1", "APDS", "NFKB2", "CARD11GOF", "PRKCD", "CD27", "CD70", "CD137", "SH2D1A", "XIAP", "TET2"],
               "range": ["#4472c4", "#4472c4", "#4472c4", "#c00000", "#941c5c", "#505050", "#ed7d31", "#ff40ff", "#66ccff", "#33ee33", "#000000", "#ff3300", "#139a13", "#139a13", "#7030a0", "#ffc000", "#00918e", "#b07a3a"]}}}}
        ]
      }
    }
  ]
}
